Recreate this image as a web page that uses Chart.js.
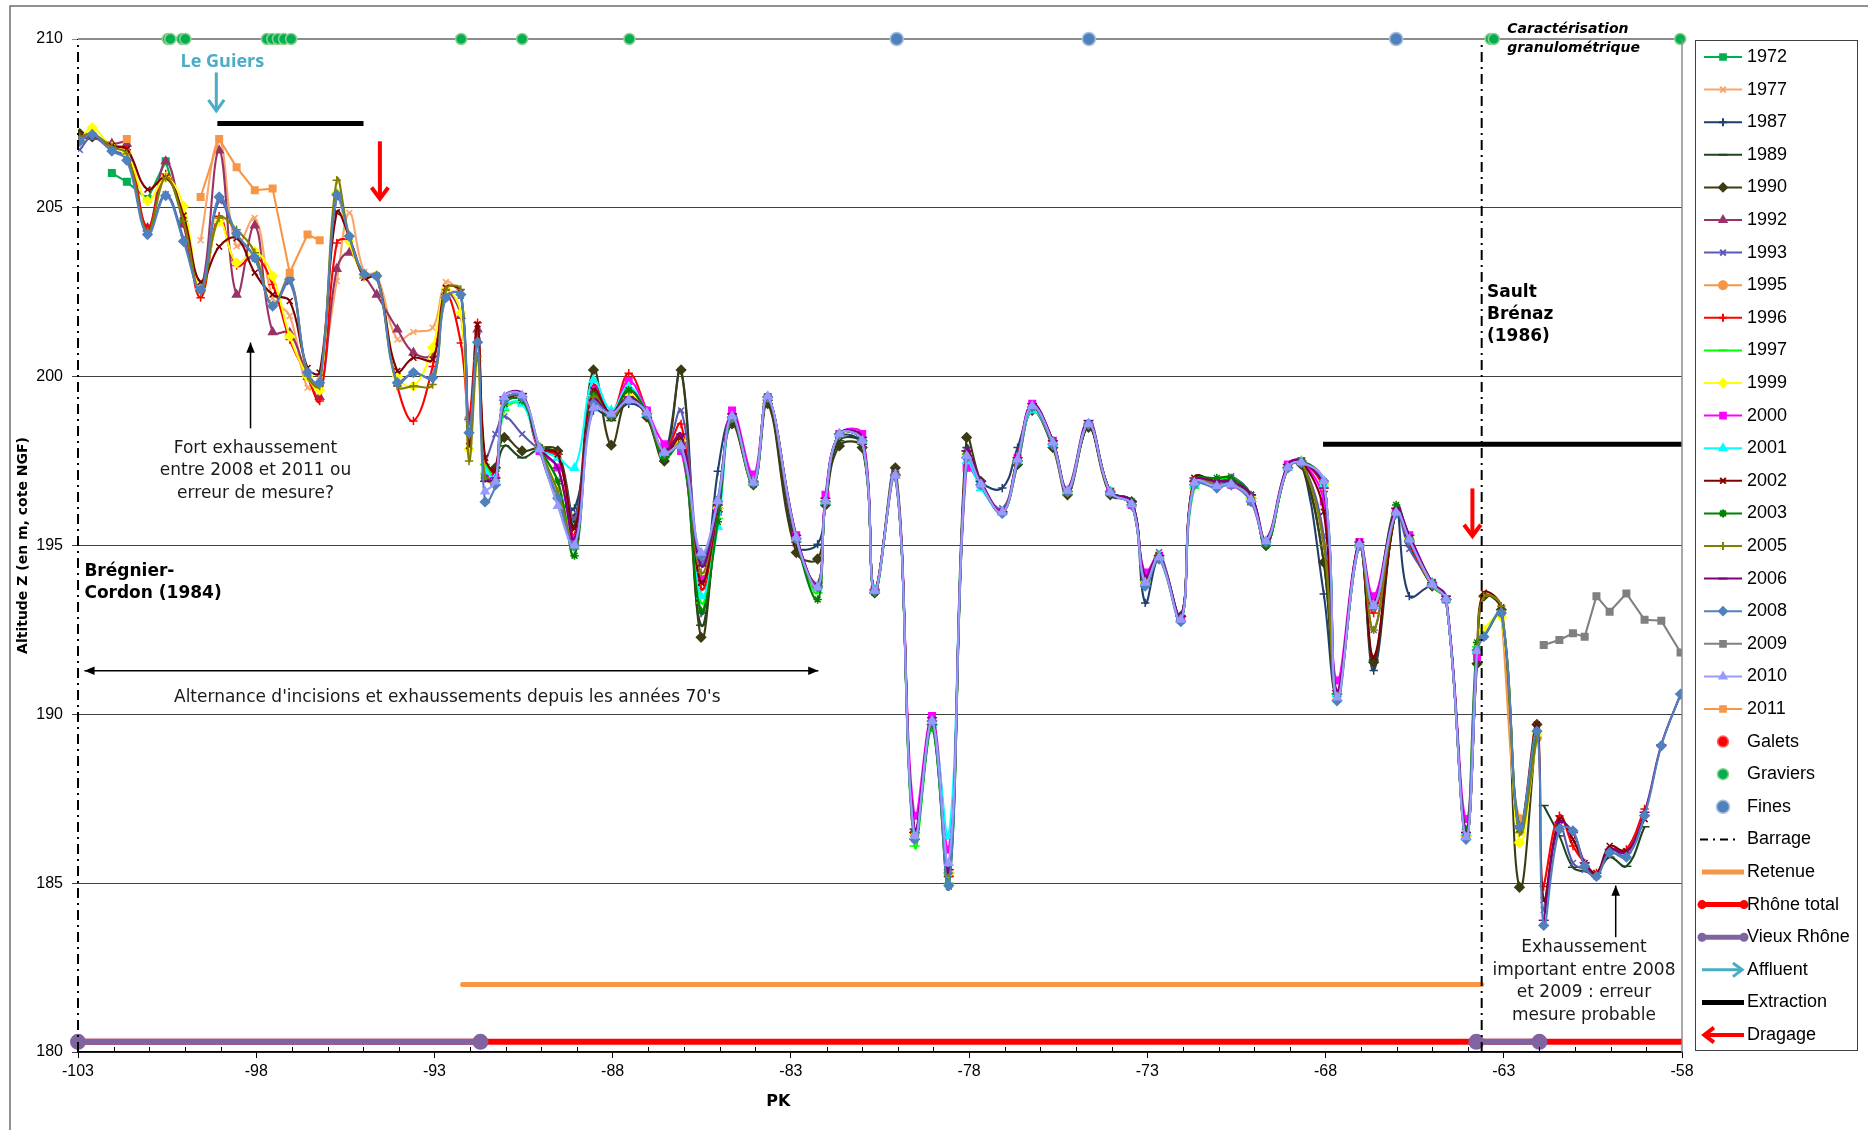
<!DOCTYPE html>
<html>
<head>
<meta charset="utf-8">
<script src="https://cdn.jsdelivr.net/npm/chart.js@4.4.1/dist/chart.umd.min.js"></script>
<style>
  html, body { margin: 0; padding: 0; background: #fff; }
  #wrap { width: 1868px; height: 1130px; }
</style>
</head>
<body>
<div id="wrap"><canvas id="chartProfil" width="1868" height="1130"></canvas></div>
<script>
const _ = null;

// PK des profils en travers (km)
const pk = [
  -102.95, -102.60, -102.05, -101.63, -101.05, -100.54, -100.04, -99.56, -99.04, -98.55,
  -98.04, -97.54, -97.06, -96.56, -96.22, -95.74, -95.39, -94.97, -94.62, -94.04,
  -93.59, -93.05, -92.68, -92.26, -92.03, -91.79,
  -91.58, -91.29, -91.04, -90.54, -90.05, -89.54, -89.07, -88.54, -88.04, -87.55,
  -87.04, -86.55, -86.08, -85.52, -85.05, -84.65, -84.05, -83.65, -82.85, -82.25,
  -82.03, -81.64, -81.00, -80.65, -80.07, -79.53, -79.04, -78.57, -78.07, -77.67,
  -77.07, -76.64, -76.23, -75.65, -75.24, -74.65, -74.04, -73.44, -73.06, -72.67,
  -72.06, -71.68, -71.05, -70.65, -70.09, -69.67, -69.06, -68.68, -68.05, -67.68,
  -67.05, -66.65, -66.02, -65.65, -65.01, -64.62, -64.06, -63.75,
  -63.56, -63.07, -62.56, -62.07, -61.88, -61.44, -61.06, -60.73, -60.40, -60.03,
  -59.56, -59.05, -58.58, -58.04
];

const pkTicks = [-103, -98, -93, -88, -83, -78, -73, -68, -63, -58];
const zTicks = [180, 185, 190, 195, 200, 205, 210];

// altitudes du fond (m NGF) par annee, a partir de l'indice de profil indique
const z1972 = [206.03, 205.77, 205.26, 206.38, 204.6];                       // des idx 2
const z1977 = [204.04, 207.0, 203.86, 204.7, 202.33, 201.8, 199.67, 200.0, 202.83, 204.85,
  203.1, 203.0, 201.1, 201.32, 201.45, 202.8, 202.5];                         // des idx 7
const z1987 = [                                                               // des idx 26
  197.0, 196.9, 199.2, 199.3, 197.8, 196.4, 196.1, 199.0, 198.8, 199.2,
  198.9, 197.7, 200.2, 193.0, 197.2, 198.8, 196.9, 199.3, 195.0, 195.04,
  196.3, 198.2, 198.0, 193.7, 197.0, 186.5, 189.6, 185.2, 197.9, 196.9,
  196.7, 197.9, 199.0, 198.0, 196.6, 198.5, 196.6, 196.3, 193.3, 194.6,
  192.9, 196.9, 196.8, 196.9, 196.4, 195.1, 197.3, 197.5, 193.56, 190.6,
  195.0, 191.3, 196.0, 193.5, 193.8, 193.4, 186.4, 191.9];
const z1989 = [                                                               // des idx 26
  _, 196.8, 197.95, 197.6, 197.85, 197.7, 195.6, 199.5, 198.7, 199.4,
  198.8, 197.6, 198.1, 192.64, 196.0, 198.7, 196.8, 199.3, 195.1, 193.9,
  196.3, 198.1, 198.0, 193.6, 197.1, 186.3, 189.7, 185.2, 197.8, 196.8,
  196.0, 197.5, 199.0, 198.0, 196.6, 198.5, 196.6, 196.3, 193.9, 194.7,
  192.9, 197.0, 196.9, 197.0, 196.5, 195.0, 197.3, 197.5, 194.5, 190.6,
  195.0, 191.6, 196.0, 195.0, 193.8, 193.4, 186.4, 191.8,
  _, _, _, _, 187.3, 186.4, 185.47, 185.35, 185.3, 185.77, 185.5, 186.67];
const z1990 = [                                                               // des idx 0
  207.2, 207.1, _, _, _, _, _, _, _, _, _, _, _, _, _, _, _, _, _, _, _, _, _, _, _, _, _,
  197.3, 198.2, 197.8, 197.9, 197.8, 195.8, 200.2, 197.97, 199.5,
  198.8, 197.5, 200.2, 192.28, 196.1, 198.6, 196.8, 199.2, 194.79, 194.6,
  196.2, 197.95, 197.9, 193.6, 197.3, 186.5, 189.7, 185.3, 198.2, 196.9,
  196.0, 197.4, 199.0, 197.9, 196.5, 198.5, 196.5, 196.3, 194.0, 194.7,
  192.9, 196.9, 196.8, 196.8, 196.4, 195.0, 197.3, 197.4, 194.5, 190.6,
  195.0, 191.54, 196.0, 195.1, 193.8, 193.4, 186.4, 191.5,
  193.5, 193.1, 184.88, 189.7];
const z1992 = [                                                               // des idx 0
  207.0, 207.1, 206.9, 206.9, 204.4, 206.38, 204.5, 202.6, 206.7, 202.43,
  204.48, 201.32, 201.3, 200.0, 199.4, 203.19, 203.67, 203.0, 202.43, 201.4,
  200.71, 200.66, 202.5, 201.8, 198.8, 201.4];
const z1993 = [                                                               // des idx 0
  206.72, 207.1, 206.7, 206.5, 204.3, 205.4, 204.1, 202.6, 205.2, 204.2,
  203.5, 202.1, 202.8, 200.1, 199.8, 205.3, 204.1, 203.0, 203.0, 199.9,
  200.1, 200.0, 202.4, 202.4, 198.6, 201.2,
  197.6, 198.3, 198.82, 198.3, 197.85, 197.6, 195.8, 199.3, 198.9, 199.4,
  198.9, 197.7, 199.0, 194.5, 196.4, 198.8, 196.9, 199.4, 195.2, 193.8,
  196.3, 198.3, 198.1, 193.7, 197.1, 186.4, 189.8, 185.3, 197.8, 196.8,
  196.1, 197.6, 199.1, 198.0, 196.6, 198.6, 196.6, 196.3, 193.9, 194.8,
  192.8, 197.0, 196.9, 197.05, 196.5, 195.1, 197.3, 197.5, 195.28, 190.6,
  195.0, 192.5, 196.0, 194.9, 193.9, 193.4, 186.4, 191.9,
  _, _, _, _, 184.2, 186.7, 185.6, 185.4, 185.2, 186.0, 185.8, 186.9];
const z1995 = [193.0, 186.9, 189.3];                                          // des idx 85
const z1996 = [                                                               // des idx 0
  207.1, 207.15, 206.8, 206.72, 204.41, 206.0, 204.6, 202.34, 204.75, 203.29,
  203.57, 202.73, 201.1, 200.0, 199.28, 203.96, 204.01, 202.95, 202.95, 199.72,
  198.69, 200.3, 202.43, 201.0, 198.8, 201.6,
  197.4, 197.2, 199.3, 199.4, 197.8, 197.7, 195.3, 199.73, 198.9, 200.1,
  199.0, 197.8, 198.6, 193.73, 196.0, 198.9, 196.9, 199.4, 195.2, 193.8,
  196.3, 198.3, 198.1, 193.7, 197.1, 186.5, 189.8, 185.2, 197.7, 196.8,
  196.0, 197.6, 199.1, 198.0, 196.6, 198.6, 196.6, 196.2, 194.0, 194.7,
  192.8, 196.9, 196.8, 196.8, 196.4, 195.1, 197.3, 197.5, 196.6, 190.5,
  195.0, 193.0, 196.0, 195.1, 193.8, 193.4, 186.4, 191.9,
  _, _, _, _, 184.9, 187.0, 186.1, 185.6, 185.3, 186.0, 186.0, 187.2];
const z1997 = [                                                               // des idx 26
  197.4, 197.0, 199.0, 199.2, 197.9, 196.9, 194.9, 199.5, 198.8, 199.5,
  198.9, 197.6, 198.0, 193.3, 195.8, 198.8, 196.8, 199.4, 195.2, 193.6,
  196.3, 198.3, 198.1, 193.6, 197.1, 186.1, 189.6, 185.0, 197.6, 196.8,
  196.0, 197.5, 199.1, 198.1, 196.6, 198.6, 196.6, 196.2, 193.9, 194.6,
  192.8, 196.7, 196.9, 197.0, 196.5, 195.0, 197.3, 197.5, 196.8, 190.6,
  195.0, 193.2, 196.0, 195.2, 193.8, 193.4, 186.5, 192.0];
const z1999 = [                                                               // des idx 0
  207.0, 207.37, 206.8, 206.63, 205.2, 205.9, 205.05, 202.6, 204.6, 203.37,
  203.7, 202.98, 201.2, 200.0, 199.6, 205.44, 204.0, 203.0, 203.0, 200.02,
  199.72, 200.86, 202.58, 201.89, 197.85, 200.46,
  197.1, 197.0, 199.2, 199.4, 197.9, 196.6, 195.1, 199.5, 198.9, 199.5,
  198.9, 197.7, 198.1, 194.0, 196.1, 198.8, 196.9, 199.4, 195.2, 193.8,
  196.3, 198.3, 198.1, 193.7, 197.1, 186.4, 189.8, 185.3, 197.7, 196.8,
  196.0, 197.6, 199.1, 198.0, 196.6, 198.6, 196.6, 196.2, 193.9, 194.7,
  192.8, 196.9, 196.8, 196.8, 196.4, 195.1, 197.3, 197.5, 196.8, 190.5,
  195.0, 193.2, 196.0, 195.2, 193.9, 193.4, 186.4, 191.9,
  192.5, 192.9, 186.2, 189.4];
const z2000 = [                                                               // des idx 26
  197.0, 197.0, 199.3, 199.4, 197.8, 197.31, 195.2, 199.6, 198.9, 199.87,
  199.0, 198.0, 197.8, 194.0, 196.0, 199.0, 197.1, 199.4, 195.3, 193.8,
  196.5, 198.3, 198.3, 193.7, 197.1, 187.0, 189.95, 186.0, 197.3, 196.8,
  196.0, 197.6, 199.2, 198.1, 196.6, 198.6, 196.6, 196.2, 194.2, 194.7,
  192.8, 196.9, 196.8, 196.8, 196.3, 195.1, 197.4, 197.5, 196.3, 191.0,
  195.1, 193.5, 196.0, 195.3, 193.9, 193.4, 186.9, 191.7];
const z2001 = [                                                               // des idx 26
  197.2, 197.0, 199.1, 199.2, 197.9, 197.6, 197.3, 199.9, 199.0, 199.7,
  198.9, 197.7, 198.0, 193.5, 195.55, 198.8, 196.9, 199.4, 195.2, 193.8,
  196.3, 198.3, 198.1, 193.7, 197.1, 186.4, 189.7, 186.4, 197.5, 196.7,
  196.0, 197.5, 199.0, 198.0, 196.6, 198.6, 196.6, 196.2, 193.9, 194.7,
  192.8, 196.8, 196.8, 196.8, 196.4, 195.1, 197.3, 197.5, 196.8, 190.6,
  195.0, 193.2, 196.0, 195.2, 193.9, 193.4, 186.5, 191.9];
const z2002 = [                                                               // des idx 0
  207.1, 207.15, 206.84, 206.74, 205.54, 205.9, 204.77, 202.8, 203.85, 204.1,
  203.08, 202.43, 202.24, 200.26, 200.12, 204.87, 204.14, 202.93, 202.98, 200.17,
  200.56, 200.51, 202.63, 202.5, 197.95, 201.55,
  197.6, 197.2, 199.2, 199.4, 197.9, 197.7, 195.5, 199.6, 198.9, 199.6,
  198.9, 197.7, 198.2, 193.9, 196.1, 198.8, 196.9, 199.4, 195.1, 193.8,
  196.3, 198.3, 198.1, 193.7, 197.1, 186.5, 189.7, 185.35, 197.7, 196.8,
  196.0, 197.6, 199.1, 198.0, 196.6, 198.6, 196.6, 196.2, 194.0, 194.7,
  192.8, 197.0, 196.9, 196.9, 196.5, 195.1, 197.3, 197.5, 196.0, 190.6,
  195.1, 191.7, 196.0, 195.2, 193.9, 193.4, 186.5, 191.9,
  193.6, 193.17, 186.6, 189.7, 184.5, 186.9, 186.3, 185.6, 185.3, 186.1, 185.95, 186.9];
const z2003 = [                                                               // des idx 26
  197.0, 196.9, 199.2, 199.3, 197.9, 196.9, 194.7, 199.47, 198.8, 199.6,
  198.9, 197.6, 198.0, 193.07, 195.7, 198.8, 196.8, 199.4, 195.2, 193.4,
  196.3, 198.3, 198.1, 193.6, 197.1, 186.3, 189.7, 184.9, 197.7, 196.8,
  196.0, 197.5, 199.1, 198.1, 196.6, 198.6, 196.6, 196.3, 193.9, 194.7,
  192.8, 196.9, 197.0, 197.0, 196.5, 195.0, 197.3, 197.5, 196.9, 190.6,
  195.0, 193.2, 196.2, 195.2, 193.9, 193.4, 186.6, 192.13,
  192.3, 193.0, 186.7, 189.5];
const z2005 = [                                                               // des idx 0
  207.1, 207.2, 206.8, 206.6, 204.3, 205.9, 204.6, 202.5, 204.7, 204.35,
  203.67, 202.1, 202.93, 200.02, 199.72, 205.82, 204.16, 203.0, 203.0, 199.72,
  199.72, 199.77, 202.58, 202.58, 197.5, 200.6,
  197.0, 196.9, 199.3, 199.4, 197.9, 196.6, 195.1, 199.4, 198.8, 199.4,
  198.9, 197.7, 198.0, 194.2, 196.2, 198.8, 196.9, 199.4, 195.2, 193.8,
  196.3, 198.3, 198.1, 193.7, 197.1, 186.4, 189.8, 185.3, 197.7, 196.8,
  196.0, 197.6, 199.1, 198.0, 196.6, 198.6, 196.6, 196.2, 193.9, 194.7,
  192.8, 196.9, 196.8, 196.8, 196.4, 195.1, 197.3, 197.5, 195.0, 190.6,
  195.0, 192.5, 196.0, 195.2, 193.9, 193.4, 186.4, 191.8,
  193.5, 193.2, 186.5, 189.3];
const z2006 = [                                                               // des idx 26
  196.9, 197.0, 199.4, 199.5, 197.9, 197.3, 195.2, 199.3, 198.9, 199.4,
  198.9, 197.8, 198.3, 194.4, 196.2, 198.9, 196.9, 199.4, 195.3, 193.8,
  196.4, 198.3, 198.2, 193.7, 197.1, 186.6, 189.9, 185.4, 197.8, 196.9,
  196.0, 197.6, 199.2, 198.1, 196.7, 198.7, 196.6, 196.3, 194.1, 194.7,
  192.9, 196.9, 196.9, 196.9, 196.5, 195.2, 197.4, 197.5, 196.7, 190.7,
  195.1, 193.3, 196.1, 195.3, 193.9, 193.5, 186.5, 191.9,
  _, _, _, _, 183.9, 186.8, 186.5, 185.6, 185.2, 186.0, 185.9, 187.1, 189.1, 190.6];
const z2008 = [                                                               // des idx 0
  206.97, 207.17, 206.68, 206.41, 204.21, 205.36, 204.01, 202.58, 205.32, 204.24,
  203.52, 202.09, 202.88, 200.12, 199.82, 205.39, 204.16, 203.03, 202.98, 199.82,
  200.12, 199.97, 202.34, 202.43, 198.34, 201.02,
  196.29, 196.8, 199.3, 199.4, 197.85, 196.4, 195.0, 199.2, 198.9, 199.3,
  198.9, 197.75, 197.9, 194.7, 196.3, 198.8, 196.86, 199.4, 195.2, 193.76,
  196.3, 198.3, 198.1, 193.66, 197.07, 186.3, 189.8, 184.93, 197.6, 196.8,
  195.95, 197.5, 199.1, 198.0, 196.6, 198.6, 196.57, 196.2, 193.8, 194.6,
  192.75, 196.8, 196.7, 196.8, 196.3, 195.1, 197.3, 197.45, 196.9, 190.4,
  195.0, 193.2, 195.95, 195.15, 193.85, 193.4, 186.3, 191.9,
  192.3, 193.0, 186.65, 189.5, 183.75, 186.6, 186.55, 185.5, 185.2, 185.9, 185.77, 187.0, 189.07, 190.6];
const z2009 = [192.05, 192.2, 192.4, 192.3, 193.5, 193.04, 193.58, 192.8, 192.77, 191.83]; // des idx 88
const z2010 = [                                                               // des idx 26
  196.6, 196.9, 199.4, 199.45, 197.85, 196.17, 195.0, 199.08, 198.9, 199.3,
  198.93, 197.75, 197.95, 194.79, 196.32, 198.83, 196.86, 199.42, 195.24, 193.76,
  196.32, 198.3, 198.1, 193.66, 197.07, 186.4, 189.8, 185.6, 197.65, 196.81,
  195.98, 197.55, 199.13, 198.05, 196.62, 198.6, 196.57, 196.22, 193.9, 194.65,
  192.8, 196.86, 196.76, 196.81, 196.37, 195.13, 197.31, 197.46, 196.91, 190.5,
  195.04, 193.21, 195.98, 195.18, 193.85, 193.41, 186.36, 191.88];
const z2011 = [207.04, _, _, _, 205.32, 207.04, 206.2, 205.52, 205.57, 203.08, 204.21, 204.04]; // des idx 3

// granulometrie (cote 210)
const gravierPk = [-100.48, -100.41, -100.08, -99.99, -97.70, -97.55, -97.39, -97.22, -97.02,
  -92.25, -90.54, -87.53, -63.37, -63.28, -58.05];
const finesPk = [-80.03, -74.64, -66.02];
const galetsPk = [];

// amenagements
const barragePk = [-103, -63.62];
const retenuePk = [-92.21, -63.62];
const retenueZ = 182;
const rhoneTotalPk = [-103, -58];
const vieuxRhonePk1 = [-103, -91.71];
const vieuxRhonePk2 = [-63.77, -62.0];
const lineZ = 180.3;
const extractionPk1 = [-99.09, -94.99];
const extractionZ1 = 207.5;
const extractionPk2 = [-68.07, -58];
const extractionZ2 = 198;

const years = [
  { label: '1972', from: 2,  z: z1972, color: '#00B050', style: 'rect', tension: 0 },
  { label: '1977', from: 7,  z: z1977, color: '#F9A66C', style: 'crossRot' },
  { label: '1987', from: 26, z: z1987, color: '#1F3F6E', style: 'cross' },
  { label: '1989', from: 26, z: z1989, color: '#1E4620', style: 'line' },
  { label: '1990', from: 0,  z: z1990, color: '#3C3C14', style: 'rectRot' },
  { label: '1992', from: 0,  z: z1992, color: '#993366', style: 'triangle' },
  { label: '1993', from: 0,  z: z1993, color: '#5A5AB4', style: 'crossRot' },
  { label: '1995', from: 85, z: z1995, color: '#F79646', style: 'circle' },
  { label: '1996', from: 0,  z: z1996, color: '#FF0000', style: 'cross' },
  { label: '1997', from: 26, z: z1997, color: '#00FF00', style: 'line' },
  { label: '1999', from: 0,  z: z1999, color: '#FFFF00', style: 'rectRot' },
  { label: '2000', from: 26, z: z2000, color: '#FF00FF', style: 'rect' },
  { label: '2001', from: 26, z: z2001, color: '#00FFFF', style: 'triangle' },
  { label: '2002', from: 0,  z: z2002, color: '#800000', style: 'crossRot' },
  { label: '2003', from: 26, z: z2003, color: '#008000', style: 'star' },
  { label: '2005', from: 0,  z: z2005, color: '#808000', style: 'cross' },
  { label: '2006', from: 26, z: z2006, color: '#800080', style: 'line' },
  { label: '2008', from: 0,  z: z2008, color: '#4F81BD', style: 'rectRot' },
  { label: '2009', from: 88, z: z2009, color: '#808080', style: 'rect', tension: 0 },
  { label: '2010', from: 26, z: z2010, color: '#9999FF', style: 'triangle' },
  { label: '2011', from: 3,  z: z2011, color: '#F79646', style: 'rect', tension: 0 }
];

function pts(from, zs) {
  return zs.map((z, i) => ({ x: pk[from + i], y: z }));
}
function flat(xs, z) {
  return xs.map(x => ({ x: x, y: z }));
}

const datasets = years.map((s, i) => ({
  label: s.label,
  data: pts(s.from, s.z),
  borderColor: s.color,
  backgroundColor: s.color,
  borderWidth: 2.1,
  pointStyle: s.style,
  pointRadius: s.style === 'line' ? 5 : (s.style === 'rect' || s.style === 'triangle' || s.style === 'rectRot' ? 4.6 : 4.2),
  pointBorderWidth: 1.5,
  tension: s.tension === undefined ? 0.4 : s.tension,
  spanGaps: false,
  order: 100 - i
}));

datasets.push(
  { label: 'Retenue', data: flat(retenuePk, retenueZ), borderColor: '#F79646', borderWidth: 5,
    borderCapStyle: 'round', pointRadius: 0, order: 20 },
  { label: 'Rhône total', data: flat(rhoneTotalPk, lineZ), borderColor: '#FF0000', borderWidth: 6,
    pointRadius: 0, order: 19, clip: false },
  { label: 'Vieux Rhône', data: flat(vieuxRhonePk1, lineZ), borderColor: '#8064A2', backgroundColor: '#8064A2',
    borderWidth: 6, pointRadius: 5, pointStyle: 'circle', order: 18, clip: false },
  { label: 'Vieux Rhône 2', data: flat(vieuxRhonePk2, lineZ), borderColor: '#8064A2', backgroundColor: '#8064A2',
    borderWidth: 6, pointRadius: 5, pointStyle: 'circle', order: 18, clip: false },
  { label: 'Extraction', data: flat(extractionPk1, extractionZ1), borderColor: '#000', borderWidth: 5,
    pointRadius: 0, order: 17 },
  { label: 'Extraction 2', data: flat(extractionPk2, extractionZ2), borderColor: '#000', borderWidth: 5,
    pointRadius: 0, order: 17 },
  { label: 'Barrage BC', data: [{ x: barragePk[0], y: 180 }, { x: barragePk[0], y: 210 }], borderColor: '#000',
    borderWidth: 2, borderDash: [10, 5, 2, 5], pointRadius: 0, order: 5, clip: false },
  { label: 'Barrage SB', data: [{ x: barragePk[1], y: 180 }, { x: barragePk[1], y: 210 }], borderColor: '#000',
    borderWidth: 2, borderDash: [10, 5, 2, 5], pointRadius: 0, order: 5, clip: false },
  { label: 'Granulo', data: flat(rhoneTotalPk, 210), borderColor: '#8C8C8C', borderWidth: 2,
    pointRadius: 0, order: 4, clip: false },
  { label: 'Galets', data: flat(galetsPk, 210), showLine: false, backgroundColor: '#FF0000',
    borderColor: '#FF6666', pointRadius: 5.5, order: 3, clip: false },
  { label: 'Graviers', data: flat(gravierPk, 210), showLine: false, backgroundColor: '#00B050',
    borderColor: '#8FD18F', pointBorderWidth: 1.5, pointRadius: 5.5, order: 2, clip: false },
  { label: 'Fines', data: flat(finesPk, 210), showLine: false, backgroundColor: '#4F81BD',
    borderColor: '#A7C0DE', pointBorderWidth: 1.5, pointRadius: 6.5, order: 1, clip: false }
);

const FONT = '"Liberation Sans", Arial, sans-serif';
const VFONT = '"DejaVu Sans", Verdana, sans-serif';

function openArrow(ctx, x0, y0, x1, y1, color, lw, head) {
  const a = Math.atan2(y1 - y0, x1 - x0);
  ctx.save();
  ctx.strokeStyle = color;
  ctx.lineWidth = lw;
  ctx.lineJoin = 'miter';
  ctx.beginPath();
  ctx.moveTo(x0, y0);
  ctx.lineTo(x1 - Math.cos(a) * lw * 0.6, y1 - Math.sin(a) * lw * 0.6);
  ctx.stroke();
  ctx.beginPath();
  ctx.moveTo(x1 - head * Math.cos(a - 0.55), y1 - head * Math.sin(a - 0.55));
  ctx.lineTo(x1 - Math.cos(a) * lw * 0.6, y1 - Math.sin(a) * lw * 0.6);
  ctx.lineTo(x1 - head * Math.cos(a + 0.55), y1 - head * Math.sin(a + 0.55));
  ctx.stroke();
  ctx.restore();
}

function solidArrow(ctx, x0, y0, x1, y1, head, both) {
  ctx.save();
  ctx.strokeStyle = '#000';
  ctx.fillStyle = '#000';
  ctx.lineWidth = 1.5;
  ctx.beginPath();
  ctx.moveTo(x0, y0);
  ctx.lineTo(x1, y1);
  ctx.stroke();
  const tri = (xa, ya, xb, yb) => {
    const a = Math.atan2(yb - ya, xb - xa);
    ctx.beginPath();
    ctx.moveTo(xb, yb);
    ctx.lineTo(xb - head * Math.cos(a - 0.4), yb - head * Math.sin(a - 0.4));
    ctx.lineTo(xb - head * Math.cos(a + 0.4), yb - head * Math.sin(a + 0.4));
    ctx.closePath();
    ctx.fill();
  };
  tri(x0, y0, x1, y1);
  if (both) tri(x1, y1, x0, y0);
  ctx.restore();
}

function textLines(ctx, lines, x, ys, align) {
  ctx.textAlign = align;
  ctx.textBaseline = 'middle';
  lines.forEach((t, i) => ctx.fillText(t, x, ys[i]));
}

const notesPlugin = {
  id: 'notes',
  afterDraw(chart) {
    const ctx = chart.ctx;
    const sx = chart.scales.x, sy = chart.scales.y;
    const X = v => sx.getPixelForValue(v);
    const Y = v => sy.getPixelForValue(v);
    const area = chart.chartArea;
    ctx.save();

    // cadre exterieur
    ctx.strokeStyle = '#6E6E6E';
    ctx.lineWidth = 1.5;
    ctx.beginPath();
    ctx.moveTo(10, 1130);
    ctx.lineTo(10, 6);
    ctx.lineTo(1868, 6);
    ctx.stroke();

    // bord droit de la zone de tracé
    ctx.strokeStyle = '#8C8C8C';
    ctx.lineWidth = 1.5;
    ctx.beginPath();
    ctx.moveTo(area.right, area.top);
    ctx.lineTo(area.right, area.bottom);
    ctx.stroke();

    // graduations secondaires
    ctx.strokeStyle = '#000';
    ctx.lineWidth = 1;
    for (let v = -102; v < -58; v++) {
      if (pkTicks.includes(v)) continue;
      const x = Math.round(X(v)) + 0.5;
      ctx.beginPath();
      ctx.moveTo(x, area.bottom);
      ctx.lineTo(x, area.bottom - 5);
      ctx.stroke();
    }

    // fleches de dragage
    openArrow(ctx, X(-94.53), Y(206.97), X(-94.53), Y(205.2), '#FF0000', 4, 16);
    openArrow(ctx, X(-63.88), Y(196.69), X(-63.88), Y(195.21), '#FF0000', 4, 16);
    // affluent
    openArrow(ctx, X(-99.12), Y(209.01), X(-99.12), Y(207.82), '#4BACC6', 3, 15);

    // fleches noires
    solidArrow(ctx, X(-98.16), Y(198.47), X(-98.16), Y(201.01), 11, false);
    solidArrow(ctx, X(-102.82), Y(191.29), X(-82.23), Y(191.29), 11, true);
    solidArrow(ctx, X(-59.86), Y(183.4), X(-59.86), Y(184.93), 11, false);

    // textes
    ctx.fillStyle = '#4BACC6';
    ctx.font = 'bold 18px "Open Sans", ' + VFONT;
    textLines(ctx, ['Le Guiers'], X(-98.95), [Y(209.31)], 'center');

    ctx.fillStyle = '#1a1a1a';
    ctx.font = '17px ' + VFONT;
    textLines(ctx, ['Fort exhaussement', 'entre 2008 et 2011 ou', 'erreur de mesure?'],
      X(-98.02), [Y(197.87), Y(197.21), Y(196.54)], 'center');
    textLines(ctx, ["Alternance d'incisions et exhaussements depuis les années 70's"],
      X(-92.64), [Y(190.5)], 'center');
    textLines(ctx, ['Exhaussement', 'important entre 2008', 'et 2009 : erreur', 'mesure probable'],
      X(-60.75), [Y(183.08), Y(182.41), Y(181.75), Y(181.08)], 'center');

    ctx.fillStyle = '#000';
    ctx.font = 'bold 17px ' + VFONT;
    textLines(ctx, ['Brégnier-', 'Cordon (1984)'], X(-102.82), [Y(194.22), Y(193.58)], 'left');
    textLines(ctx, ['Sault', 'Brénaz', '(1986)'], X(-63.47), [Y(202.5), Y(201.84), Y(201.18)], 'left');
    ctx.font = 'italic bold 14px ' + VFONT;
    textLines(ctx, ['Caractérisation', 'granulométrique'], X(-62.9), [Y(210.28), Y(209.73)], 'left');

    ctx.font = 'bold 16px ' + VFONT;
    textLines(ctx, ['PK'], X(-83.35), [area.bottom + 50], 'center');

    drawLegend(chart);
    ctx.restore();
  }
};

function drawMarker(ctx, style, color, x, y, r) {
  ctx.fillStyle = color;
  ctx.strokeStyle = color;
  if (Chart.helpers && Chart.helpers.drawPoint) {
    Chart.helpers.drawPoint(ctx, { pointStyle: style, radius: r, rotation: 0, borderWidth: 1.4 }, x, y);
  } else {
    ctx.fillRect(x - r, y - r, 2 * r, 2 * r);
  }
}

function drawLegend(chart) {
  const ctx = chart.ctx;
  const area = chart.chartArea;
  const left = area.right + 13, top = area.top + 1;
  const w = 162, h = area.bottom - area.top - 3;
  ctx.save();
  ctx.strokeStyle = '#404040';
  ctx.lineWidth = 1;
  ctx.strokeRect(left + 0.5, top + 0.5, w, h);

  const step = 32.6;
  const x0 = left + 9, x1 = left + 47, xm = left + 28, xt = left + 52;
  let y = top + 17;
  ctx.font = '18px ' + FONT;
  ctx.textAlign = 'left';
  ctx.textBaseline = 'middle';

  years.forEach(s => {
    ctx.strokeStyle = s.color;
    ctx.lineWidth = 2;
    ctx.beginPath();
    ctx.moveTo(x0, y);
    ctx.lineTo(x1, y);
    ctx.stroke();
    drawMarker(ctx, s.style, s.color, xm, y, s.style === 'line' ? 4.5 : 4);
    ctx.fillStyle = '#000';
    ctx.fillText(s.label, xt, y);
    y += step;
  });

  const dot = (fill, edge, r) => {
    ctx.fillStyle = fill;
    ctx.strokeStyle = edge;
    ctx.lineWidth = 1.5;
    ctx.beginPath();
    ctx.arc(xm, y, r, 0, Math.PI * 2);
    ctx.fill();
    ctx.stroke();
  };
  const label = t => { ctx.fillStyle = '#000'; ctx.fillText(t, xt, y); y += step; };
  const bar = (color, lw, ends) => {
    ctx.strokeStyle = color;
    ctx.lineWidth = lw;
    ctx.setLineDash([]);
    ctx.beginPath();
    ctx.moveTo(x0 - 2, y);
    ctx.lineTo(x1 + 2, y);
    ctx.stroke();
    if (ends) {
      ctx.fillStyle = color;
      [x0 - 2, x1 + 2].forEach(xx => { ctx.beginPath(); ctx.arc(xx, y, 4.5, 0, Math.PI * 2); ctx.fill(); });
    }
  };

  dot('#FF0000', '#FF6666', 5.5); label('Galets');
  dot('#00B050', '#8FD18F', 5.5); label('Graviers');
  dot('#4F81BD', '#A7C0DE', 6.5); label('Fines');

  ctx.strokeStyle = '#000';
  ctx.lineWidth = 2;
  ctx.setLineDash([8, 5, 2, 5]);
  ctx.beginPath();
  ctx.moveTo(x0 - 4, y);
  ctx.lineTo(x1 - 2, y);
  ctx.stroke();
  ctx.setLineDash([]);
  label('Barrage');

  bar('#F79646', 5, false); label('Retenue');
  bar('#FF0000', 5, true); label('Rhône total');
  bar('#8064A2', 5, true); label('Vieux Rhône');
  openArrow(ctx, x0 - 2, y, x1 + 2, y, '#4BACC6', 3, 13); label('Affluent');
  bar('#000', 5, false); label('Extraction');
  openArrow(ctx, x1 + 2, y, x0 - 2, y, '#FF0000', 4, 14); label('Dragage');
  ctx.restore();
}

const config = {
  type: 'line',
  data: { datasets: datasets },
  options: {
    responsive: false,
    animation: false,
    devicePixelRatio: 1,
    events: [],
    layout: { padding: { left: 8, right: 186, top: 39, bottom: 0 } },
    plugins: { legend: { display: false }, tooltip: { enabled: false }, title: { display: false } },
    elements: { point: { hitRadius: 0 } },
    scales: {
      x: {
        type: 'linear',
        min: -103,
        max: -58,
        afterBuildTicks: s => { s.ticks = pkTicks.map(v => ({ value: v })); },
        afterFit: s => { s.height = 78; },
        ticks: { font: { family: FONT, size: 16 }, color: '#000', padding: 4, maxRotation: 0,
          callback: v => String(v) },
        grid: { drawOnChartArea: false, drawTicks: true, tickLength: 6, color: '#000' },
        border: { color: '#000', width: 1.5 }
      },
      y: {
        type: 'linear',
        min: 180,
        max: 210,
        afterBuildTicks: s => { s.ticks = zTicks.map(v => ({ value: v })); },
        afterFit: s => { s.width = 70; },
        ticks: { font: { family: FONT, size: 16 }, color: '#000', padding: 9 },
        grid: { color: c => (c.tick && c.tick.value === 210 ? '#8C8C8C' : '#404040'),
          lineWidth: 1, tickLength: 6, drawTicks: true },
        border: { display: false },
        title: { display: true, text: 'Altitude Z (en m, cote NGF)', color: '#000',
          font: { family: VFONT, size: 14, weight: 'bold' }, padding: { top: 7, bottom: 0 } }
      }
    }
  },
  plugins: [notesPlugin]
};

new Chart(document.getElementById('chartProfil'), config);
</script>
</body>
</html>
